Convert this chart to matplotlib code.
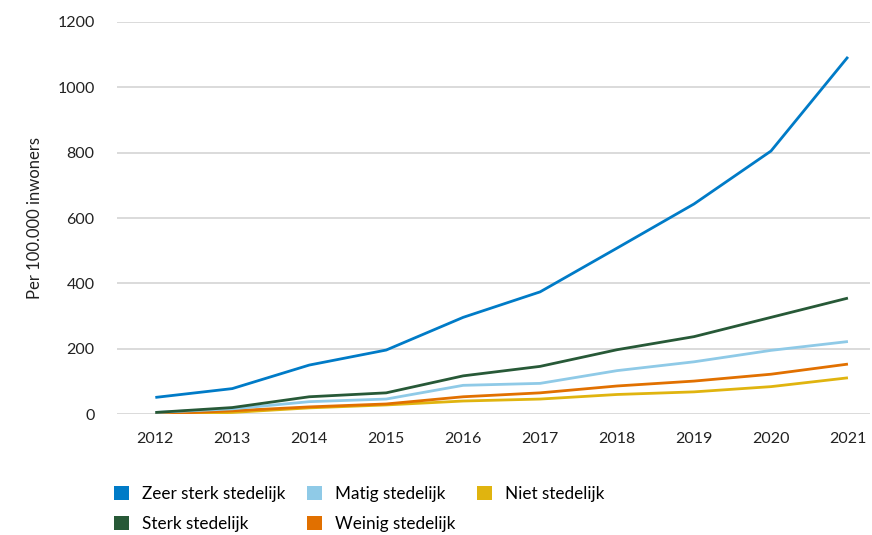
import matplotlib
matplotlib.use("Agg")
import matplotlib.pyplot as plt
from matplotlib.patches import Patch

plt.rcParams['font.family'] = ['Lato', 'DejaVu Sans']

years = [2012, 2013, 2014, 2015, 2016, 2017, 2018, 2019, 2020, 2021]
zeer_sterk = [51, 78, 150, 196, 296, 374, 508, 643, 805, 1093]
sterk = [5, 20, 53, 65, 117, 146, 197, 237, 296, 355]
matig = [5, 16, 38, 46, 88, 94, 133, 160, 195, 222]
weinig = [0, 10, 22, 31, 53, 65, 86, 101, 122, 153]
niet = [-2, 5, 19, 28, 40, 46, 60, 68, 84, 111]

series = [
    ("Zeer sterk stedelijk", zeer_sterk, "#007bc7"),
    ("Sterk stedelijk", sterk, "#275937"),
    ("Matig stedelijk", matig, "#8fcae7"),
    ("Weinig stedelijk", weinig, "#e17000"),
    ("Niet stedelijk", niet, "#e0b40f"),
]
draw_order = ["Niet stedelijk", "Weinig stedelijk", "Matig stedelijk", "Sterk stedelijk", "Zeer sterk stedelijk"]

fig = plt.figure(figsize=(8.72, 5.35), dpi=100)
ax = fig.add_axes([0.134, 0.226, 0.864, 0.733])

lookup = {n: (v, c) for n, v, c in series}
for i, name in enumerate(draw_order):
    v, c = lookup[name]
    ax.plot(years, v, color=c, lw=2.0, zorder=3 + i, solid_capstyle='butt')

ax.set_ylim(0, 1200)
ax.set_xlim(2011.5, 2021.29)
ax.set_yticks(range(0, 1201, 200))
ax.set_xticks(years)
ax.grid(axis='y', color='#d4d4d4', lw=1.2)
ax.set_axisbelow(True)
for s in ax.spines.values():
    s.set_visible(False)
ax.tick_params(axis='both', length=0, labelsize=11.5, colors='#222222')
ax.tick_params(axis='y', pad=16)
ax.tick_params(axis='x', pad=13)
ax.set_ylabel("Per 100.000 inwoners", fontsize=12, color='#222222', labelpad=10)

handles = [Patch(facecolor=c, edgecolor='none', label=n) for n, v, c in series]
fig.legend(handles=handles, loc='upper left', bbox_to_anchor=(0.123, 0.105), ncol=3,
           frameon=False, fontsize=12.3, handlelength=0.9, handleheight=0.9,
           handletextpad=0.75, columnspacing=1.25, labelspacing=0.85, borderaxespad=0)

fig.savefig("out.png", dpi=100)
